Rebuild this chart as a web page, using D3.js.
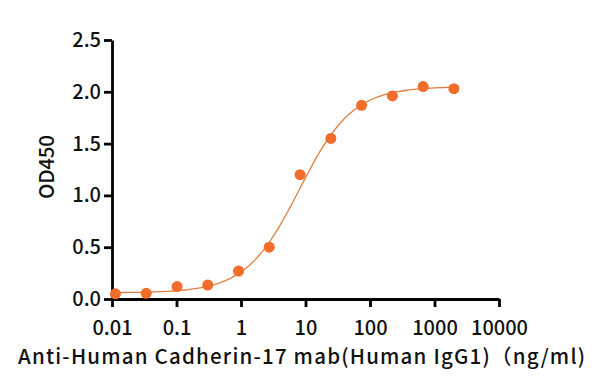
<!DOCTYPE html>
<html>
<head>
<meta charset="utf-8">
<script src="https://cdn.jsdelivr.net/npm/d3@7"></script>
<style>
  body { margin: 0; background: #fff; }
  svg text { font-family: "Noto Sans CJK SC", "Noto Sans", sans-serif; fill: #111; }
  .axis path, .axis line { stroke: #000; stroke-width: 2.8px; }
  .axis text { font-size: 20px; font-weight: 500; }
  .label { font-size: 20.5px; font-weight: 500; }
</style>
</head>
<body>
<svg width="613" height="390"></svg>
<script>
const conc = [0.0113, 0.0339, 0.102, 0.305, 0.914, 2.74, 8.23, 24.7, 74.1, 222.2, 666.7, 2000];
const od   = [0.05, 0.055, 0.12, 0.135, 0.27, 0.50, 1.20, 1.55, 1.87, 1.96, 2.05, 2.03];
const xTicks = [0.01, 0.1, 1, 10, 100, 1000, 10000];
const yTicks = [0, 0.5, 1.0, 1.5, 2.0, 2.5];
// 4PL fit: bottom, top, EC50, hill
const fit = [0.06, 2.05, 8, 1.05];

const svg = d3.select("svg");
const x = d3.scaleLog().domain([0.01, 10000]).range([112, 499]);
const y = d3.scaleLinear().domain([0, 2.5]).range([299, 40]);

svg.append("g").attr("class", "axis")
    .attr("transform", "translate(0,299)")
    .call(d3.axisBottom(x).tickValues(xTicks).tickFormat(d3.format("~g"))
        .tickSize(8).tickSizeOuter(0).tickPadding(14));

svg.append("g").attr("class", "axis")
    .attr("transform", "translate(112,0)")
    .call(d3.axisLeft(y).tickValues(yTicks).tickFormat(d3.format(".1f"))
        .tickSize(8).tickSizeOuter(0).tickPadding(3));

const model = c => fit[0] + (fit[1] - fit[0]) / (1 + Math.pow(fit[2] / c, fit[3]));
const lo = Math.log10(conc[0]), hi = Math.log10(conc[conc.length - 1]);
const curveX = d3.range(0, 201).map(i => Math.pow(10, lo + i / 200 * (hi - lo)));

svg.append("path")
    .datum(curveX)
    .attr("fill", "none")
    .attr("stroke", "#df7f3e")
    .attr("stroke-width", 1.3)
    .attr("d", d3.line().x(d => x(d)).y(d => y(model(d))));

svg.selectAll("circle.dot")
    .data(conc)
    .join("circle").attr("class", "dot")
    .attr("r", 5.5)
    .attr("cx", d => x(d))
    .attr("cy", (d, i) => y(od[i]))
    .style("fill", "#f26c2a");

svg.append("text").attr("class", "label")
    .attr("text-anchor", "middle")
    .attr("transform", "translate(54,167) rotate(-90)")
    .attr("textLength", 64).attr("lengthAdjust", "spacing")
    .text("OD450");

svg.append("text").attr("class", "label")
    .attr("x", 18).attr("y", 364)
    .attr("textLength", 567).attr("lengthAdjust", "spacing")
    .text("Anti-Human Cadherin-17 mab(Human IgG1)（ng/ml)");
</script>
</body>
</html>
